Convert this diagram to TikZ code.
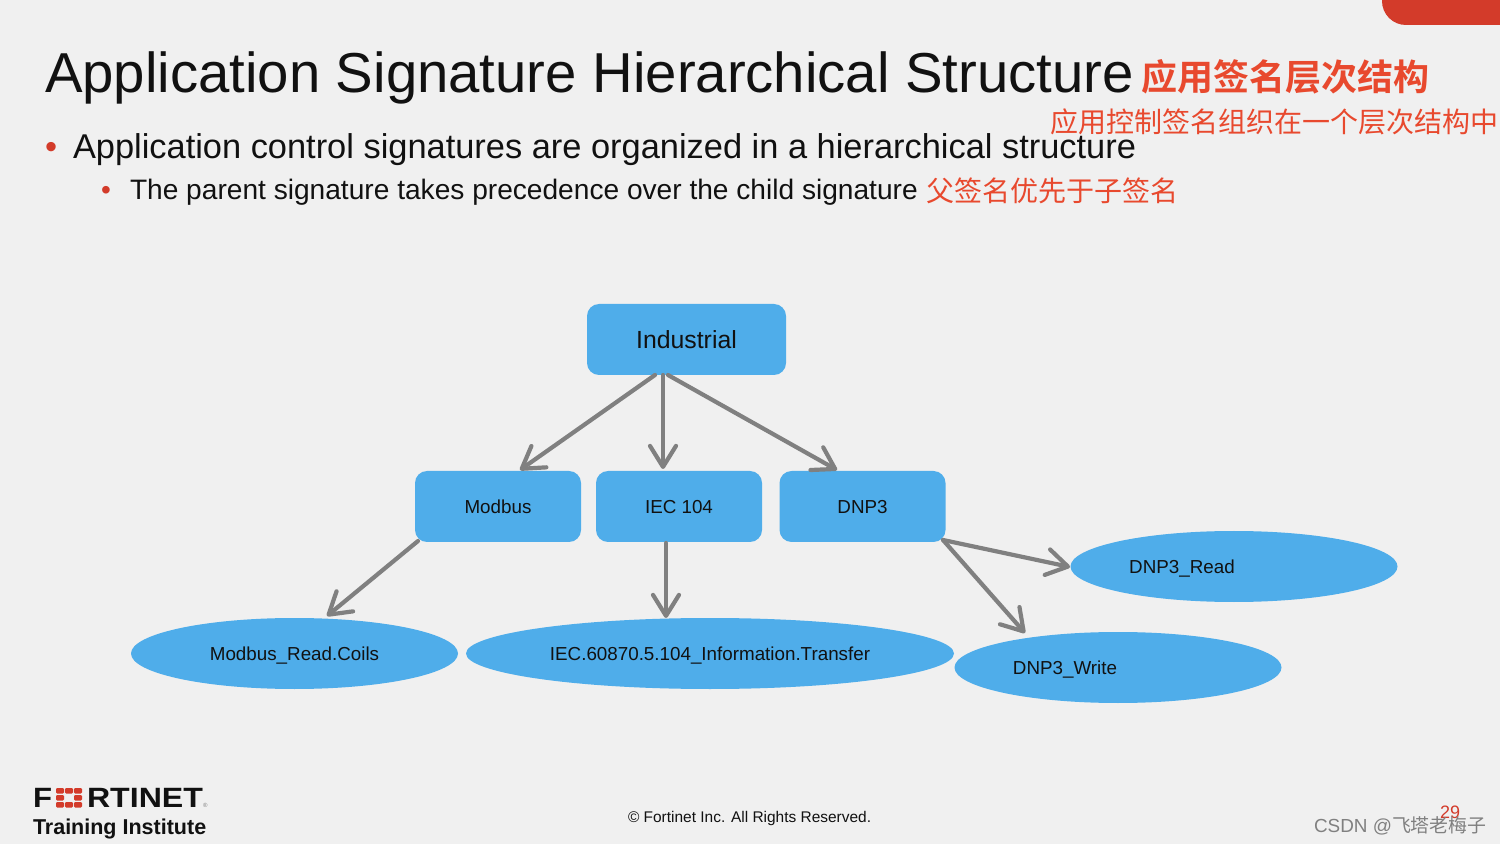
\documentclass[tikz,border=0pt]{standalone}
\usepackage{fontspec}
\setmainfont{Liberation Sans}
\newfontfamily\cjk{Noto Sans CJK SC}
\newfontfamily\cjkb{Noto Sans CJK SC}[BoldFont={Noto Sans CJK SC Bold}]
\usetikzlibrary{arrows.meta,shapes.geometric}
\definecolor{bgc}{HTML}{F0F0F0}
\definecolor{blu}{HTML}{4FADEA}
\definecolor{gry}{HTML}{808080}
\definecolor{redt}{HTML}{E8492E}
\definecolor{tabc}{HTML}{D33B2A}
\definecolor{ink}{HTML}{111111}
\tikzset{
  x=0.5pt,y=-0.5pt,
  txt/.style={inner sep=0pt,outer sep=0pt,anchor=base west,text=ink},
  bluebox/.style={fill=blu,rounded corners=6pt,minimum width=83pt,minimum height=35.5pt,inner sep=0pt,text=ink,text height=7pt,text depth=0pt,font=\fontsize{9.4}{11}\selectfont},
  blueell/.style={ellipse,fill=blu,minimum width=163.5pt,minimum height=35.5pt,inner sep=0pt},
  link/.style={draw=gry,line width=2.1pt,line cap=round,-{Straight Barb[length=10.5pt,width=13pt,round]}},
  ellabel/.style={inner sep=0pt,text=ink,text height=7pt,text depth=0pt,font=\fontsize{9.4}{11}\selectfont},
}
\begin{document}
\begin{tikzpicture}
\path[use as bounding box,fill=bgc] (0,0) rectangle (1500,844);
% red tab
\fill[tabc] (1382,0) -- (1500,0) -- (1500,25) -- (1406,25) arc[start angle=270,end angle=180,radius=12pt] -- cycle;
% heading
\node[txt,font=\fontsize{28.15}{34}\selectfont] (title) at (45,93) {Application Signature Hierarchical Structure};
\node[txt,text=redt,font=\fontsize{18}{22}\selectfont\cjkb\bfseries] (titlecn) at (1141,90.5) {应用签名层次结构};
\node[txt,font=\fontsize{17.2}{22}\selectfont] (b1) at (73,159) {Application control signatures are organized in a hierarchical structure};
\node[txt,text=tabc,font=\fontsize{17.2}{22}\selectfont] (b1dot) at (45,159) {•};
\node[txt,text=redt,font=\fontsize{14}{18}\selectfont\cjk] (b1cn) at (1050,133) {应用控制签名组织在一个层次结构中};
\node[txt,font=\fontsize{14.06}{18}\selectfont] (b2) at (130,199.5) {The parent signature takes precedence over the child signature};
\node[txt,text=tabc,font=\fontsize{14}{18}\selectfont] (b2dot) at (101,199.5) {•};
\node[txt,text=redt,font=\fontsize{14}{18}\selectfont\cjk] (b2cn) at (926,201.5) {父签名优先于子签名};
% boxes
\node[bluebox,minimum width=99.5pt,text height=9.4pt,font=\fontsize{12.4}{15}\selectfont] (ind) at (686.5,339.5) {Industrial};
\node[bluebox] (mod) at (498,506.5) {Modbus};
\node[bluebox] (iec) at (679,506.5) {IEC 104};
\node[bluebox] (dnp) at (862.5,506.5) {DNP3};
% ellipses
\node[blueell] (mr) at (294.5,653.5) {};
\node[ellabel] (mrl) at (294.5,654) {Modbus\_Read.Coils};
\node[blueell,minimum width=244pt] (ii) at (710,653.5) {};
\node[ellabel] (iil) at (710,654) {IEC.60870.5.104\_Information.Transfer};
\node[blueell] (dr) at (1234,566.5) {};
\node[ellabel] (drl) at (1182,567) {DNP3\_Read};
\node[blueell] (dw) at (1118,667.5) {};
\node[ellabel] (dwl) at (1065,668) {DNP3\_Write};
% connector end points on the node borders
\coordinate (i1) at (655,375);
\coordinate (i2) at (663,375);
\coordinate (i3) at (668,375);
\coordinate (m1) at (520,470);
\coordinate (m2) at (663,469);
\coordinate (m3) at (837,470);
\coordinate (mb) at (418,541);
\coordinate (mrt) at (327,616);
\coordinate (ib) at (666,543);
\coordinate (iit) at (666,618);
\coordinate (db) at (943,540);
\coordinate (drt) at (1070,567);
\coordinate (dwt) at (1025,633);
\draw[link] (i1) -- (m1);
\draw[link] (i2) -- (m2);
\draw[link] (i3) -- (m3);
\draw[link] (mb) -- (mrt);
\draw[link] (ib) -- (iit);
\draw[link] (db) -- (drt);
\draw[link] (db) -- (dwt);
% logo
\node[txt,font=\fontsize{13}{15}\selectfont\bfseries] (logof) at (33,807) {\resizebox{9.5pt}{9.6pt}{F}};
\foreach \a in {56,65,74} \foreach \b in {788,795,802}
  {\ifnum\a=65 \ifnum\b=795 \else\fill[tabc,rounded corners=0.6pt] (\a,\b) rectangle +(8,5.5);\fi\else\fill[tabc,rounded corners=0.6pt] (\a,\b) rectangle +(8,5.5);\fi}
\node[txt,font=\fontsize{13}{15}\selectfont\bfseries] (logor) at (87,807) {\resizebox{58pt}{9.6pt}{RTINET}};
\node[txt,text=gry,font=\fontsize{3}{4}\selectfont] (logoreg) at (203,807) {®};
\node[txt,font=\fontsize{10.75}{14}\selectfont\bfseries] (ti) at (33,834) {Training Institute};
% footer
\node[txt,font=\fontsize{7.73}{10}\selectfont] (foot) at (628,822) {© Fortinet Inc. All Rights Reserved.};
\node[txt,text=tabc,font=\fontsize{9}{11}\selectfont] (pg) at (1440,818) {29};
\node[txt,text=gry,font=\fontsize{9.45}{12}\selectfont] (wm) at (1314,832) {CSDN @{\cjk 飞塔老梅子}};
\end{tikzpicture}
\end{document}
